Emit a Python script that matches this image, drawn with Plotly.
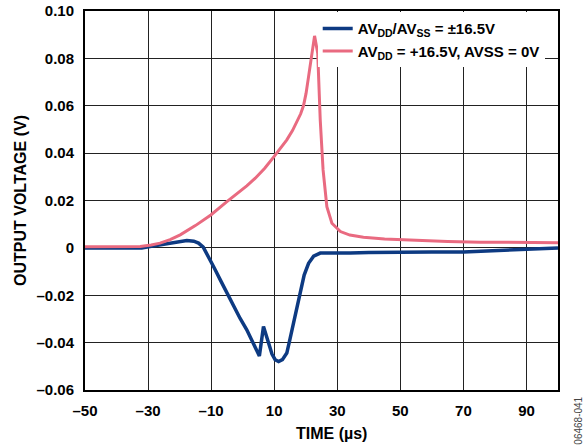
import plotly.graph_objects as go

# AVDD/AVSS = ±16.5V trace
dual_t = [-50, -40, -32, -29.4, -26, -23, -20, -17.7, -15.5, -14, -12.5, -10.8,
          -9, -7.1, -5, -2.9, -0.8, 1.3, 3.3, 5.3, 6.6, 7.4, 8.2, 9.3, 10.3,
          11.4, 12.6, 14.0, 15.0, 16.1, 17.2, 18.3, 19.5, 20.9, 22.5, 24.6,
          27, 29.9, 34.1, 40, 50, 60, 70, 80, 90, 100]
dual_v = [0, 0, 0, 0.0006, 0.0014, 0.0022, 0.0028, 0.0031, 0.0028, 0.002,
          0.0003, -0.0037, -0.0085, -0.0135, -0.019, -0.0248, -0.0298, -0.0346,
          -0.040, -0.0456, -0.0332, -0.0365, -0.0402, -0.0448, -0.0472,
          -0.048, -0.0472, -0.0444, -0.0385, -0.0318, -0.0245, -0.0177,
          -0.0115, -0.0065, -0.0035, -0.0022, -0.0022, -0.0025, -0.0022,
          -0.002, -0.0017, -0.0017, -0.0017, -0.0012, -0.0006, 0.0]

# AVDD = +16.5V, AVSS = 0V trace
single_t = [-50, -40, -32.5, -29, -26.2, -23, -19.8, -15, -10.1, -5.0, -2, 1.3,
            4, 7, 10, 12, 14.0, 15.8, 17.2, 18.4, 19.3, 20.1, 20.9, 22.0, 22.8,
            23.8, 24.6, 25.5, 26.7, 28.3, 31, 34, 38.3, 45, 54.2, 65, 75.4, 90,
            100]
single_v = [0.0005, 0.0005, 0.0006, 0.0012, 0.002, 0.0035, 0.0055, 0.0094,
            0.0139, 0.0195, 0.0226, 0.0262, 0.0294, 0.0336, 0.0386, 0.0419,
            0.0456, 0.0495, 0.0532, 0.0566, 0.0601, 0.0652, 0.0723, 0.0836,
            0.0895, 0.0822, 0.054, 0.0329, 0.0174, 0.0104, 0.0069, 0.0054,
            0.0045, 0.0037, 0.0031, 0.0027, 0.0024, 0.0023, 0.0022]

x_ticks = [-50, -30, -10, 10, 30, 50, 70, 90]
x_labels = ["–50", "–30", "–10", "10", "30", "50", "70", "90"]
y_ticks = [-0.06, -0.04, -0.02, 0, 0.02, 0.04, 0.06, 0.08, 0.10]
y_labels = ["–0.06", "–0.04", "–0.02", "0", "0.02", "0.04", "0.06", "0.08", "0.10"]

FONT = "Liberation Sans, Arial, sans-serif"
BLUE = "#0d3a82"
PINK = "#e96a80"

fig = go.Figure()
fig.add_trace(go.Scatter(x=dual_t, y=dual_v, mode="lines",
                         line=dict(color=BLUE, width=3.5),
                         name="<b>AV<sub>DD</sub>/AV<sub>SS</sub> = ±16.5V</b>"))
fig.add_trace(go.Scatter(x=single_t, y=single_v, mode="lines",
                         line=dict(color=PINK, width=3),
                         name="<b>AV<sub>DD</sub> = +16.5V, AVSS = 0V</b>"))

axis_common = dict(showgrid=True, gridcolor="#222", gridwidth=1,
                   showline=True, linecolor="black", linewidth=2, mirror=True,
                   zeroline=False, ticks="", automargin=False,
                   tickfont=dict(family=FONT, size=15, color="black", weight="bold"))

fig.update_xaxes(range=[-50, 100], tickvals=x_ticks, ticktext=x_labels,
                 ticklabelstandoff=6, **axis_common)
fig.update_yaxes(range=[-0.06, 0.10], tickvals=y_ticks, ticktext=y_labels,
                 ticklabelstandoff=6,
                 title=dict(text="<b>OUTPUT VOLTAGE (V)</b>", standoff=6,
                            font=dict(family=FONT, size=16, color="black")),
                 **axis_common)

fig.update_layout(
    width=585, height=448,
    margin=dict(l=85, r=27, t=11, b=58),
    plot_bgcolor="white", paper_bgcolor="white",
    font=dict(family=FONT, color="black"),
    showlegend=True,
    legend=dict(x=0.492, y=0.997, xanchor="left", yanchor="top",
                bgcolor="white", borderwidth=0,
                font=dict(family=FONT, size=15, color="black"),
                itemwidth=30, tracegroupgap=0),
    annotations=[
        dict(text="<b>TIME (µs)</b>", xref="paper", yref="paper",
             x=0.522, y=-0.116, xanchor="center", yanchor="middle",
             showarrow=False, font=dict(family=FONT, size=16, color="black")),
        dict(text="06468-041", xref="paper", yref="paper",
             x=1.043, y=-0.08, xanchor="center", yanchor="middle",
             textangle=-90, showarrow=False,
             font=dict(family=FONT, size=10, color="#444")),
    ],
)

fig.write_html("out.html", config={"displayModeBar": False},
               post_script="document.body.style.margin='0';")
